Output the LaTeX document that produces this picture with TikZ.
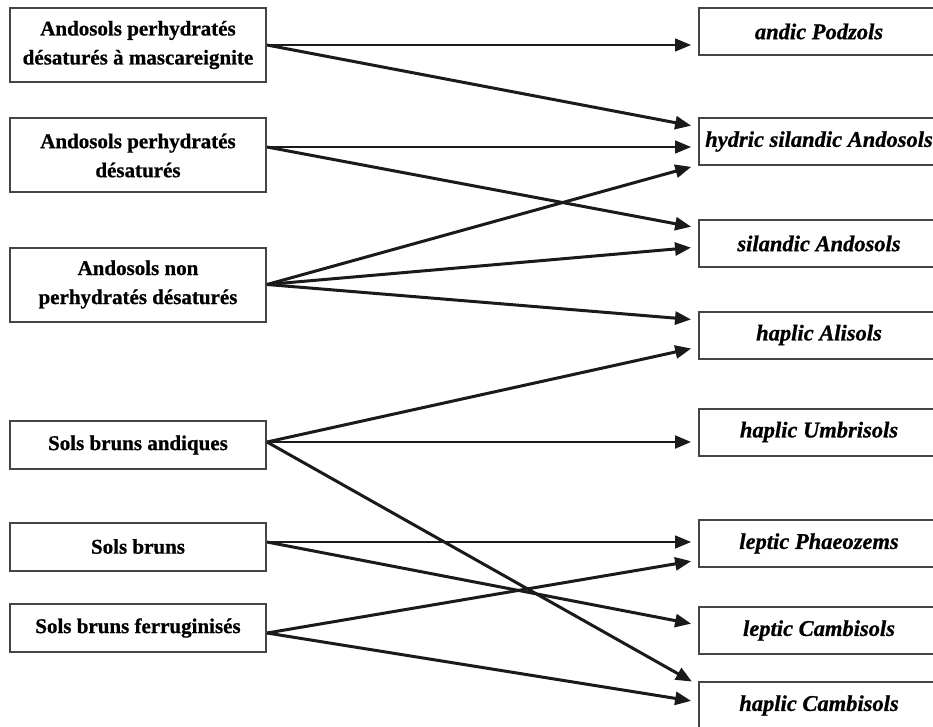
\documentclass[tikz,border=0pt]{standalone}
\usepackage{fontspec}
\setmainfont{Liberation Serif}[BoldFeatures={FakeBold=0.8},BoldItalicFeatures={FakeBold=0.8}]
\usetikzlibrary{arrows.meta}
\definecolor{boxline}{HTML}{454545}
\definecolor{arrowcol}{HTML}{1A1A1A}
\tikzset{
  srcbox/.style={draw=boxline, line width=2pt, fill=white, inner sep=0pt,
    minimum width=256pt, align=center,
    font=\bfseries\fontsize{21}{29}\selectfont},
  tallbox/.style={srcbox, minimum height=74pt},
  lowbox/.style={srcbox, minimum height=48pt},
  tgtbox/.style={draw=boxline, line width=2pt, fill=white, inner sep=0pt,
    minimum width=240pt, minimum height=47pt,
    font=\bfseries\itshape\fontsize{22.5}{26}\selectfont},
  link/.style={draw=arrowcol, line width=3pt, shorten >=7pt,
    -{Triangle[length=16pt,width=13pt]}},
  flat/.style={link, line width=1.5pt},
}
\begin{document}
\begin{tikzpicture}[x=1pt,y=-1pt]
\useasboundingbox (0,0) rectangle (933,727);
\clip (0,0) rectangle (933,727);
\fill[white] (0,0) rectangle (933,727);

% source boxes
\node[tallbox] (L1) at (138,45) {Andosols perhydratés\\désaturés à mascareignite};
\node[tallbox] (L2) at (138,155.5) {Andosols perhydratés\\désaturés};
\node[tallbox] (L3) at (138,284.5) {Andosols non\\perhydratés désaturés};
\node[lowbox] (L4) at (138,445) {Sols bruns andiques};
\node[lowbox] (L5) at (138,546.5) {Sols bruns};
\node[lowbox] (L6) at (138,628) {Sols bruns ferruginisés};

% target boxes
\node[tgtbox] (R1) at (819,31.5) {andic Podzols};
\node[tgtbox] (R2) at (819,141.5) {hydric silandic Andosols};
\node[tgtbox] (R3) at (819,243.5) {silandic Andosols};
\node[tgtbox] (R4) at (819,335) {haplic Alisols};
\node[tgtbox] (R5) at (819,432) {haplic Umbrisols};
\node[tgtbox] (R6) at (819,543.5) {leptic Phaeozems};
\node[tgtbox] (R7) at (819,630.5) {leptic Cambisols};
\node[tgtbox] (R8) at (819,705.5) {haplic Cambisols};

% connectors
\draw[flat] (L1.east) -- ([yshift=-13.5pt]R1.west);
\draw[link] (L1.east) -- ([yshift=14.5pt]R2.west);

\draw[flat] ([yshift=8.5pt]L2.east) -- ([yshift=-5.5pt]R2.west);
\draw[link] ([yshift=8.5pt]L2.east) -- ([yshift=15.5pt]R3.west);

\draw[link] (L3.east) -- ([yshift=-23.5pt]R2.west);
\draw[link] (L3.east) -- ([yshift=-3.5pt]R3.west);
\draw[link] (L3.east) -- ([yshift=15pt]R4.west);

\draw[link] ([yshift=3pt]L4.east) -- ([yshift=-12pt]R4.west);
\draw[link, line width=2.2pt] ([yshift=3pt]L4.east) -- ([yshift=-10pt]R5.west);
\draw[link] ([yshift=3pt]L4.east) -- ([yshift=20.5pt]R8.west);

\draw[flat] ([yshift=4.5pt]L5.east) -- ([yshift=1.5pt]R6.west);
\draw[link] ([yshift=4.5pt]L5.east) -- ([yshift=5.5pt]R7.west);

\draw[link] ([yshift=-5pt]L6.east) -- ([yshift=-16.5pt]R6.west);
\draw[link] ([yshift=-5pt]L6.east) -- ([yshift=3.5pt]R8.west);
\end{tikzpicture}
\end{document}
